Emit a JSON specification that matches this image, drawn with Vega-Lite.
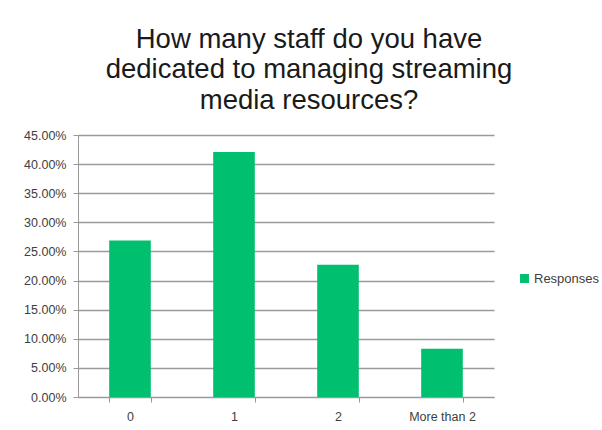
{
  "$schema": "https://vega.github.io/schema/vega-lite/v6.json",
  "width": 416,
  "height": 262,
  "autosize": "none",
  "padding": {"left": 78, "top": 135, "right": 108, "bottom": 33},
  "background": "white",
  "title": {
    "text": ["How many staff do you have", "dedicated to managing streaming", "media resources?"],
    "font": "Liberation Sans",
    "fontSize": 27.5,
    "fontWeight": "normal",
    "color": "#1a1a1a",
    "lineHeight": 30.5,
    "anchor": "middle",
    "frame": "group",
    "dx": 23,
    "offset": 15
  },
  "data": {
    "values": [
      {"staff": "0", "pct": 0.269, "series": "Responses"},
      {"staff": "1", "pct": 0.421, "series": "Responses"},
      {"staff": "2", "pct": 0.227, "series": "Responses"},
      {"staff": "More than 2", "pct": 0.083, "series": "Responses"}
    ]
  },
  "mark": {"type": "bar"},
  "encoding": {
    "x": {
      "field": "staff",
      "type": "nominal",
      "sort": null,
      "scale": {"paddingInner": 0.6, "paddingOuter": 0.3},
      "axis": {
        "title": null,
        "labelAngle": 0,
        "tickBand": "extent",
        "tickSize": 5,
        "tickColor": "#999999",
        "domainColor": "#999999",
        "labelFont": "Liberation Sans",
        "labelFontSize": 12.5,
        "labelColor": "#404040",
        "labelPadding": 8,
        "grid": false
      }
    },
    "y": {
      "field": "pct",
      "type": "quantitative",
      "scale": {"domain": [0, 0.45], "nice": false},
      "axis": {
        "title": null,
        "format": ".2%",
        "values": [0, 0.05, 0.1, 0.15, 0.2, 0.25, 0.3, 0.35, 0.4, 0.45],
        "tickSize": 5,
        "tickColor": "#999999",
        "domainColor": "#999999",
        "gridColor": "#9a9a9a",
        "gridWidth": 1.5,
        "labelFont": "Liberation Sans",
        "labelFontSize": 12.5,
        "labelColor": "#404040",
        "labelPadding": 7
      }
    },
    "color": {
      "field": "series",
      "type": "nominal",
      "scale": {"range": ["#00BF6F"]},
      "legend": {
        "title": null,
        "orient": "none",
        "legendX": 440,
        "legendY": 137,
        "symbolType": "square",
        "symbolSize": 80,
        "labelFont": "Liberation Sans",
        "labelFontSize": 13,
        "labelColor": "#404040",
        "labelOffset": 3
      }
    }
  },
  "config": {
    "view": {"stroke": null}
  }
}
